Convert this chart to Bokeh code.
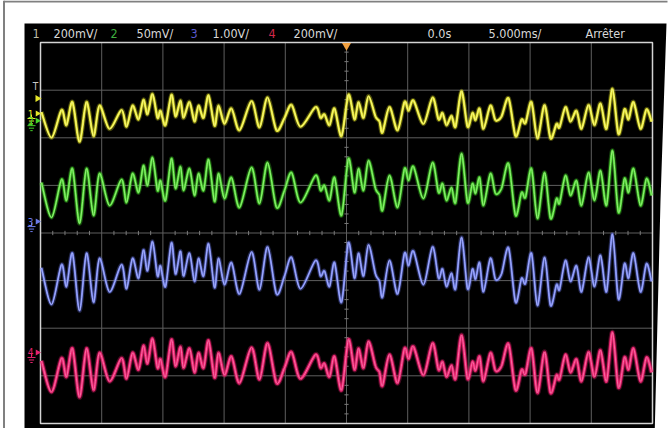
from bokeh.plotting import figure
from bokeh.models import Range1d
from bokeh.embed import file_html
from bokeh.resources import INLINE
from bokeh.core.properties import value
import numpy as np

# ---------------- data ----------------
# time axis: 5 ms/div, trigger at 0 s
time_ms = [-24.92, -24.10, -23.28, -22.88, -22.39, -21.81, -21.24, -20.67, -20.18, -19.36,
           -18.38, -17.97, -17.48, -16.99, -16.59, -16.26, -15.85, -15.44, -15.20, -14.79,
           -14.30, -13.97, -13.56, -13.32, -12.83, -12.42, -12.09, -11.68, -11.27, -10.78,
           -10.46, -9.97, -9.40, -8.74, -7.76, -7.11, -6.45, -5.72, -5.07, -4.49,
           -3.76, -2.53, -2.12, -1.80, -1.39, -0.98, -0.41, 0.16, 0.65, 0.98,
           1.39, 1.80, 2.37, 2.70, 2.94, 3.51, 4.17, 4.74, 5.07, 5.47,
           6.29, 7.03, 7.52, 7.84, 8.17, 8.58, 8.91, 9.40, 9.89, 10.29,
           10.54, 10.87, 11.19, 11.76, 12.17, 12.66, 13.24, 13.81, 14.30, 14.62,
           15.11, 15.60, 16.18, 16.67, 17.16, 17.40, 17.89, 18.30, 18.79, 19.20,
           19.77, 20.26, 20.75, 21.24, 21.73, 22.22, 22.71, 23.04, 23.45, 24.02,
           24.51, 24.92]
# channel 2 waveform (mV, 50 mV/div) around its trace centre
ch2_mv = [4.7, -32.0, 7.9, -14.2, 19.4, -38.3, 19.4, -29.9, 14.2, -19.4,
          7.9, -16.3, 14.2, -5.8, 22.6, 1.6, 31.0, -3.7, 6.8, -14.2,
          29.9, -1.6, 21.5, -3.7, 19.4, -8.9, 14.2, -3.7, 28.9, -15.2,
          14.2, -12.1, 10.0, -21.5, 20.5, -17.3, 25.7, -21.5, -3.7, 15.2,
          -16.3, 12.1, -3.7, 1.6, -14.2, 10.0, -29.9, 29.9, -5.8, 19.4,
          -3.7, 27.8, -1.6, -8.9, -24.7, 12.1, -21.5, 19.4, 6.8, 21.5,
          -12.1, 25.7, -5.8, 3.7, -14.2, -0.5, -16.3, 35.2, -16.3, 3.7,
          -6.8, 10.0, -19.4, 14.2, -6.8, -1.6, 24.7, -29.9, -5.8, -11.0,
          19.4, -33.1, 15.2, -33.1, -12.1, -17.3, 12.1, -8.9, 6.8, -19.4,
          15.2, -14.2, 17.3, -19.4, 38.3, -26.8, 8.9, -5.8, 19.4, -19.4,
          8.9, -8.9]
ch2_mv_per_div = 50.0

channels = ["1", "2", "3", "4"]
ch_scale_text = ["200mV/", "50mV/", "1.00V/", "200mV/"]
ch_trace_gain = [0.73, 1.0, 1.05, 0.89]        # displayed size relative to ch 2 (div/div)
ch_trace_center_div = [2.47, 0.966, -0.83, -2.77]
ch_ground_div = [2.51, 2.36, 0.24, -2.51]
trigger_level_div = 2.826
time_ticks_ms = [-25, -20, -15, -10, -5, 0, 5, 10, 15, 20, 25]
volt_ticks_div = [-4, -3, -2, -1, 0, 1, 2, 3, 4]
header_texts = ["0.0s", "5.000ms/", "Arrêter"]

# ---------------- styles ----------------
ch_color = ["#e6e62a", "#46d22a", "#6c7ae8", "#e8226e"]
ch_core = ["#fbfba8", "#b4f59a", "#bcc4ff", "#ff8ab8"]
ch_label_color = ["#bdbda6", "#3fae3f", "#5a5ad0", "#d02848"]
ch_width = [2.4, 2.4, 2.1, 3.0]
FONT = value("DejaVu Sans Condensed")
SMOOTH = 1 / 7.0   # curve tension used to draw the trace through the read points

PX_X = 12.24   # px per ms
PX_Y = 47.6    # px per div
W, H = 669, 428
CX, CY = 346, 232.5
x0 = -CX / PX_X
y1 = CY / PX_Y

p = figure(width=W, height=H, output_backend="svg", toolbar_location=None,
           x_range=Range1d(x0, x0 + W / PX_X), y_range=Range1d(y1 - H / PX_Y, y1),
           x_axis_type=None, y_axis_type=None, min_border=0)
p.outline_line_color = None
p.background_fill_color = "white"
p.border_fill_color = "white"
p.xgrid.visible = False
p.ygrid.visible = False

def tx(px):  # window x pixel -> ms
    return (px - CX) / PX_X

def ty(py):  # window y pixel -> div
    return (CY - py) / PX_Y

# outer frame of the capture
p.segment(x0=[tx(3.5), tx(3.5)], x1=[tx(3.5), tx(667)], y0=[ty(0), ty(1)], y1=[ty(440), ty(1)],
          line_color="#808080", line_width=2)

# screen
p.patch(x=[tx(24), tx(666), tx(660), tx(654), tx(24)],
        y=[ty(23), ty(23), ty(200), ty(440), ty(440)],
        fill_color="black", line_color=None)

# grid
inner_t = time_ticks_ms[1:-1]
inner_v = volt_ticks_div[1:-1]
p.segment(x0=inner_t, x1=inner_t, y0=[-4] * len(inner_t), y1=[4] * len(inner_t),
          line_color="#5e5e5e", line_width=1)
p.segment(x0=[-25] * len(inner_v), x1=[25] * len(inner_v), y0=inner_v, y1=inner_v,
          line_color="#5e5e5e", line_width=1)
mt = [t for t in np.arange(-25, 25.01, 1.0) if abs(t % 5) > 1e-6]
p.segment(x0=mt, x1=mt, y0=[-0.045] * len(mt), y1=[0.045] * len(mt),
          line_color="#7a7a7a", line_width=1)
mv = [v for v in np.arange(-4, 4.001, 0.2) if abs(round(v) - v) > 1e-6]
p.segment(x0=[-0.17] * len(mv), x1=[0.17] * len(mv), y0=mv, y1=mv,
          line_color="#7a7a7a", line_width=1)
p.rect(x=[0], y=[0], width=[50], height=[8], fill_color=None,
       line_color="#d4d4d4", line_width=1.5)

# traces: smooth curve segments through the read points
t_arr = np.array(time_ms)
base = np.array(ch2_mv) / ch2_mv_per_div
tp = np.concatenate([[t_arr[0]], t_arr, [t_arr[-1]]])
for i in range(4):
    y = ch_trace_center_div[i] + ch_trace_gain[i] * base
    yp = np.concatenate([[y[0]], y, [y[-1]]])
    xa, ya = tp[1:-2], yp[1:-2]
    xb, yb = tp[2:-1], yp[2:-1]
    c0x = xa + (tp[2:-1] - tp[:-3]) * SMOOTH
    c0y = ya + (yp[2:-1] - yp[:-3]) * SMOOTH
    c1x = xb - (tp[3:] - tp[1:-2]) * SMOOTH
    c1y = yb - (yp[3:] - yp[1:-2]) * SMOOTH
    src = dict(x0=xa, y0=ya, x1=xb, y1=yb, cx0=c0x, cy0=c0y, cx1=c1x, cy1=c1y)
    p.bezier(source=src, x0="x0", y0="y0", x1="x1", y1="y1", cx0="cx0", cy0="cy0",
             cx1="cx1", cy1="cy1", line_color=ch_color[i], line_width=ch_width[i] + 2.2,
             line_alpha=0.3)
    p.bezier(source=src, x0="x0", y0="y0", x1="x1", y1="y1", cx0="cx0", cy0="cy0",
             cx1="cx1", cy1="cy1", line_color=ch_color[i], line_width=ch_width[i])
    p.bezier(source=src, x0="x0", y0="y0", x1="x1", y1="y1", cx0="cx0", cy0="cy0",
             cx1="cx1", cy1="cy1", line_color=ch_core[i], line_width=0.9, line_alpha=0.8)

# header
hx = [tx(32), tx(53), tx(110), tx(136), tx(190), tx(212), tx(268), tx(293)]
htxt, hcol = [], []
for i in range(4):
    htxt += [channels[i], ch_scale_text[i]]
    hcol += [ch_label_color[i], "#d8d8d8"]
p.text(x=hx, y=[ty(32.5)] * 8, text=htxt, text_color=hcol, text_font=FONT,
       text_font_size="12.5px", text_baseline="middle", text_align="left")
p.text(x=[tx(427), tx(488), tx(585)], y=[ty(32.5)] * 3, text=header_texts,
       text_color="#d8d8d8", text_font=FONT, text_font_size="12.5px",
       text_baseline="middle", text_align="left")

# trigger position marker
p.scatter(x=[0], y=[ty(45)], marker="inverted_triangle", size=9,
          fill_color="#f0a040", line_color=None)

# left side markers
p.text(x=[tx(35)], y=[ty(86)], text=["T"], text_color="#c8c8c8", text_font=FONT,
       text_font_size="10px", text_baseline="middle", text_align="center")
p.scatter(x=[tx(37)], y=[trigger_level_div], marker="triangle", angle=-np.pi / 2,
          size=7, fill_color=ch_color[0], line_color=None)
for i in range(4):
    g = ch_ground_div[i]
    p.text(x=[tx(30)], y=[g], text=[channels[i]], text_color=ch_color[i], text_font=FONT,
           text_font_size="10px", text_baseline="middle", text_align="center")
    p.scatter(x=[tx(37)], y=[g], marker="triangle", angle=-np.pi / 2, size=6,
              fill_color=ch_color[i], line_color=None)
    gx = tx(31)
    offs = [5 / PX_Y, 7.5 / PX_Y, 10 / PX_Y]
    half = [4 / PX_X, 2.6 / PX_X, 1.2 / PX_X]
    p.segment(x0=[gx - h for h in half], x1=[gx + h for h in half],
              y0=[g - o for o in offs], y1=[g - o for o in offs],
              line_color=ch_color[i], line_width=1)
    p.segment(x0=[gx], x1=[gx], y0=[g - 1 / PX_Y], y1=[g - 5 / PX_Y],
              line_color=ch_color[i], line_width=1)

open("out.html", "w").write(file_html(p, INLINE))
